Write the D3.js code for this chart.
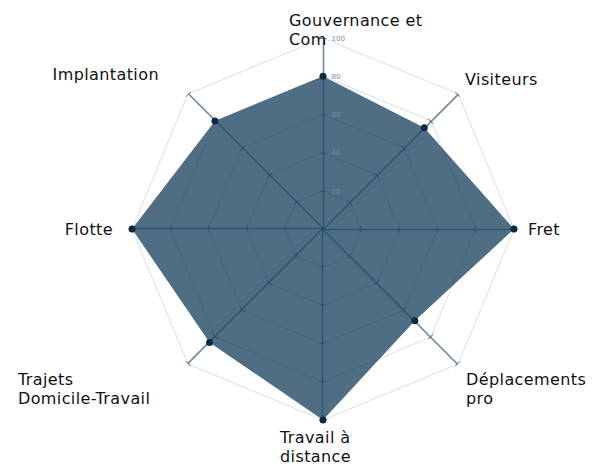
<!DOCTYPE html>
<html>
<head>
<meta charset="utf-8">
<script src="https://cdn.jsdelivr.net/npm/d3@7"></script>
<style>
  body { margin: 0; background: #fff; }
  svg { display: block; }
</style>
</head>
<body>
<div id="chart"></div>
<script>
// data
const axes = ["Gouvernance et Com", "Visiteurs", "Fret", "Déplacements pro",
              "Travail à distance", "Trajets Domicile-Travail", "Flotte", "Implantation"];
const labelLines = [["Gouvernance et", "Com"], ["Visiteurs"], ["Fret"], ["Déplacements", "pro"],
                    ["Travail à", "distance"], ["Trajets", "Domicile-Travail"], ["Flotte"], ["Implantation"]];
const values = [80, 75, 100, 68, 100, 84, 100, 80];
const ticks = [20, 40, 60, 80, 100];

// layout
const width = 600, height = 475;
const cx = 323, cy = 229, R = 191;
// label nudges relative to the end of each axis
const labelNudge = [
  {anchor: "start", dx: -34, dy: -12},
  {anchor: "start", dx: 7, dy: -9},
  {anchor: "start", dx: 14, dy: 6},
  {anchor: "start", dx: 8, dy: 21},
  {anchor: "start", dx: -43, dy: 23},
  {anchor: "start", dx: -170, dy: 21},
  {anchor: "end", dx: -19, dy: 6},
  {anchor: "end", dx: -29, dy: -14}
];

const r = d3.scaleLinear().domain([0, 100]).range([0, R]);
const angle = d3.scaleLinear().domain([0, axes.length]).range([0, 2 * Math.PI]);

function pt(i, v) {
  const a = angle(i);
  return [cx + r(v) * Math.sin(a), cy - r(v) * Math.cos(a)];
}

const svg = d3.select("#chart")
  .append("svg")
  .attr("width", width)
  .attr("height", height);

// grid rings
svg.append("g")
  .selectAll("polygon")
  .data(ticks)
  .enter()
  .append("polygon")
  .attr("points", t => axes.map((d, i) => pt(i, t).join(",")).join(" "))
  .attr("fill", "none")
  .attr("stroke", "#dadfe3")
  .attr("stroke-width", 1);

// area
const line = d3.line().curve(d3.curveLinearClosed);
svg.append("path")
  .attr("d", line(values.map((v, i) => pt(i, v))))
  .attr("fill", "#143c5a")
  .attr("fill-opacity", 0.75);

// axes
const yScale = d3.scaleLinear().domain([0, 100]).range([0, -R]);
axes.forEach((name, i) => {
  const g = svg.append("g")
    .attr("transform", `translate(${cx},${cy}) rotate(${angle(i) * 180 / Math.PI})`)
    .call(d3.axisRight(yScale).tickValues(ticks).tickSize(3.5).tickSizeOuter(0).tickPadding(5));
  g.select(".domain")
    .attr("stroke", "#1f4a6b")
    .attr("stroke-opacity", 0.65)
    .attr("stroke-width", 1.6);
  g.selectAll(".tick line")
    .attr("x1", -3.5)
    .attr("stroke", "#1f4a6b")
    .attr("stroke-opacity", 0.55);
  if (i === 0) {
    g.selectAll(".tick text")
      .attr("fill", "#6f8ca5")
      .style("font-family", "DejaVu Sans, sans-serif")
      .style("font-size", "7px");
  } else {
    g.selectAll(".tick text").remove();
  }
});

// points
svg.append("g")
  .selectAll("circle")
  .data(values)
  .enter()
  .append("circle")
  .attr("cx", (v, i) => pt(i, v)[0])
  .attr("cy", (v, i) => pt(i, v)[1])
  .attr("r", 3.5)
  .attr("fill", "#0c2b43");

// labels
const labels = svg.append("g")
  .selectAll("text")
  .data(axes)
  .enter()
  .append("text")
  .attr("x", (d, i) => pt(i, 100)[0] + labelNudge[i].dx)
  .attr("y", (d, i) => pt(i, 100)[1] + labelNudge[i].dy)
  .attr("text-anchor", (d, i) => labelNudge[i].anchor)
  .attr("fill", "#111")
  .style("font-family", "DejaVu Sans, sans-serif")
  .style("font-size", "16px")
  .style("letter-spacing", "0.4px");

labels.each(function(d, i) {
  const t = d3.select(this);
  const x = t.attr("x");
  labelLines[i].forEach((ln, k) => {
    t.append("tspan")
      .attr("x", x)
      .attr("dy", k === 0 ? 0 : 18.5)
      .text(ln);
  });
});
</script>
</body>
</html>
